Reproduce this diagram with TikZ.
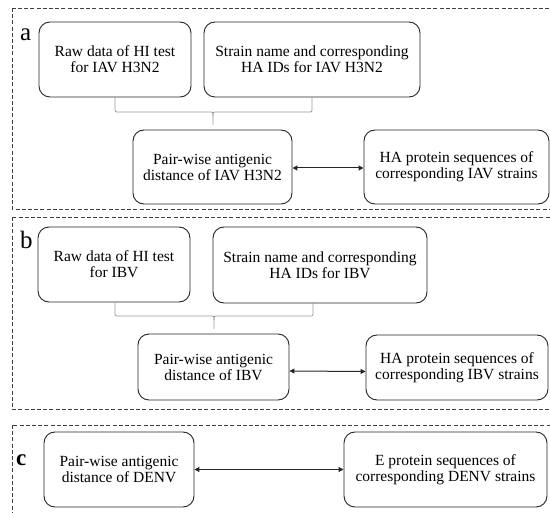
\documentclass[tikz,border=0pt]{standalone}
\usepackage{fontspec}
\setmainfont{Liberation Serif}
\usetikzlibrary{arrows.meta}
\begin{document}
\begin{tikzpicture}[x=1pt,y=-1pt,
  box/.style={draw=black!85, line width=0.9pt, rounded corners=11pt, align=center,
    inner sep=0pt, font=\fontsize{15.5}{16}\selectfont},
  panel/.style={draw=black!75, line width=0.9pt, dash pattern=on 4pt off 2.2pt},
  bracestyle/.style={draw=black!40, line width=0.8pt},
  link/.style={draw=black!85, line width=1pt, {Triangle[length=5pt,width=5pt]}-{Triangle[length=5pt,width=5pt]}},
  lbl/.style={anchor=base west, inner sep=0pt, font=\fontsize{25}{25}\selectfont}
]
\useasboundingbox (0,0) rectangle (550,513);
\clip (0,0) rectangle (550,513);
\fill[white] (0,0) rectangle (550,513);

% panels
\draw[panel] (12,8) rectangle (560,209);
\draw[panel] (12,217) rectangle (560,409);
\draw[panel] (12,425) rectangle (560,540);

\node[lbl] (la) at (20,41) {a};
\node[lbl] (lb) at (20,249) {b};
\node[lbl, font=\bfseries\fontsize{23}{23}\selectfont] (lc) at (16,466) {c};

% panel a
\node[box, minimum width=152pt, minimum height=75pt] (rawa) at (115,59.5) {Raw data of HI test\\for IAV H3N2};
\node[box, minimum width=216pt, minimum height=75pt] (stra) at (312,59.5) {Strain name and corresponding\\HA IDs for IAV H3N2};
\node[box, minimum width=159pt, minimum height=74pt] (paira) at (212.5,167) {Pair-wise antigenic\\distance of IAV H3N2};
\node[box, minimum width=185pt, minimum height=74pt] (haa) at (456.5,167) {HA protein sequences of\\corresponding IAV strains};
\coordinate (bla) at (rawa.south);
\coordinate (bra) at (stra.south);
\coordinate (bma) at (213,125);
\draw[bracestyle] (bla) -- (115,108) .. controls (115,112) .. (119,112) -- (209,112) .. controls (213,112) .. (213,116) -- (bma);
\draw[bracestyle] (bra) -- (312,108) .. controls (312,112) .. (308,112) -- (217,112) .. controls (213,112) .. (213,116);
\draw[link] ([yshift=-1pt]paira.east) -- ([yshift=-1pt]haa.west);

% panel b
\node[box, minimum width=152pt, minimum height=75pt] (rawb) at (114,264.5) {Raw data of HI test\\for IBV};
\node[box, minimum width=214pt, minimum height=76pt] (strb) at (320,265) {Strain name and corresponding\\HA IDs for IBV};
\node[box, minimum width=151pt, minimum height=66pt] (pairb) at (213.5,367) {Pair-wise antigenic\\distance of IBV};
\node[box, minimum width=182pt, minimum height=65pt] (hab) at (457,367.5) {HA protein sequences of\\corresponding IBV strains};
\coordinate (blb) at ([xshift=1pt]rawb.south);
\coordinate (brb) at (313,303);
\coordinate (bmb) at (214,329);
\draw[bracestyle] (blb) -- (115,312) .. controls (115,316) .. (119,316) -- (210,316) .. controls (214,316) .. (214,320) -- (bmb);
\draw[bracestyle] (brb) -- (313,312) .. controls (313,316) .. (309,316) -- (218,316) .. controls (214,316) .. (214,320);
\draw[link] ([yshift=-4pt]pairb.east) -- ([yshift=-4pt]hab.west);

% panel c
\node[box, minimum width=150pt, minimum height=75pt] (pairc) at (119,469.5) {Pair-wise antigenic\\distance of DENV};
\node[box, minimum width=203pt, minimum height=75pt] (ec) at (445.5,469.5) {E protein sequences of\\corresponding DENV strains};
\draw[link] (pairc.east) -- (ec.west);
\end{tikzpicture}
\end{document}
